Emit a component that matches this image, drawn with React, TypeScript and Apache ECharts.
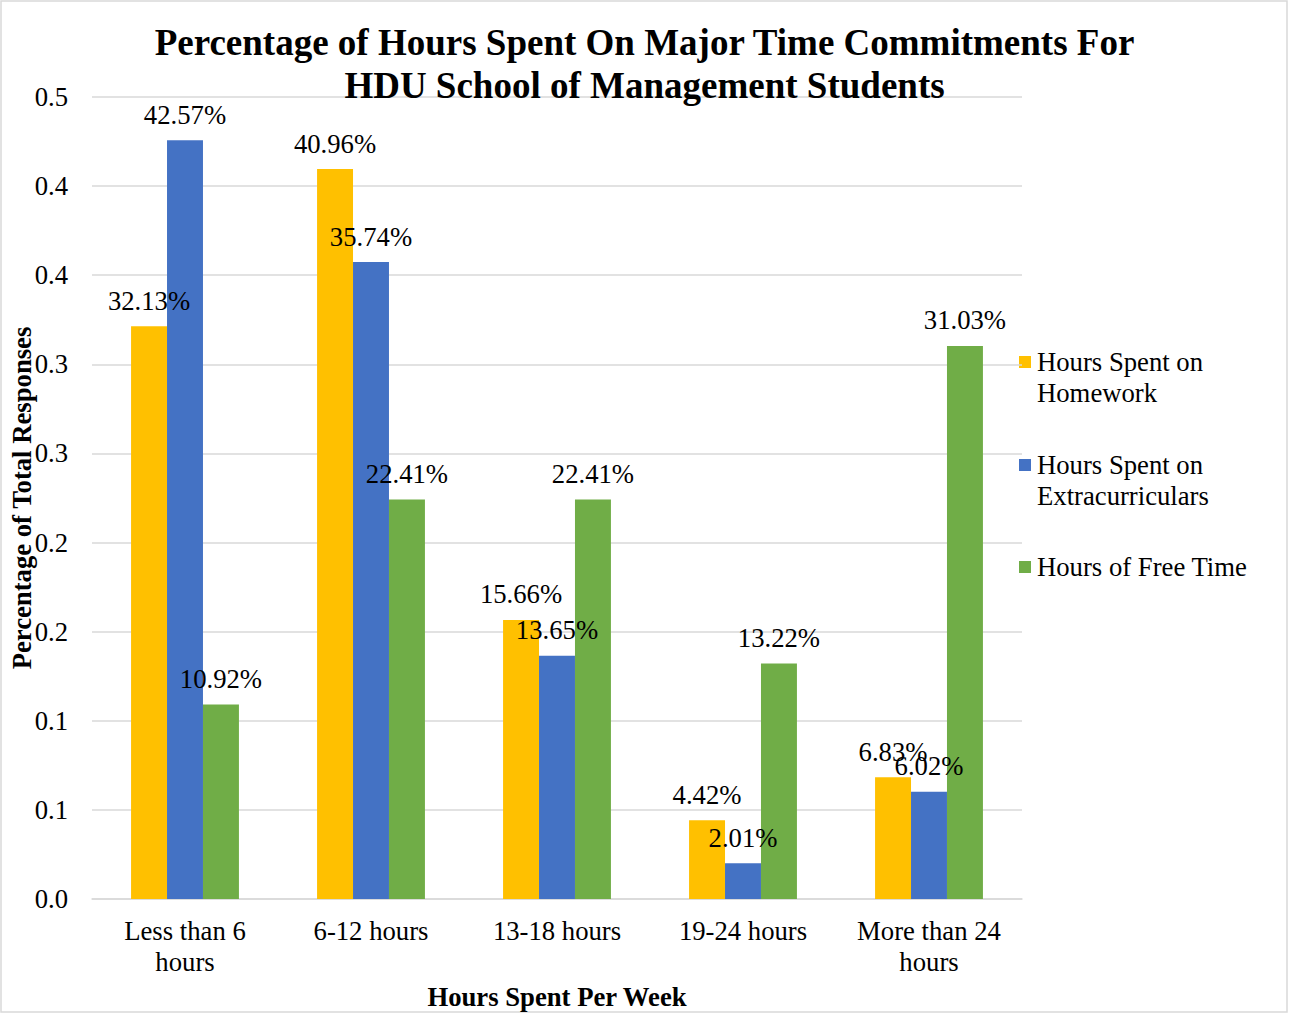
import React, { useEffect, useRef } from "react";
import * as echarts from "echarts";

const categories = ["Less than 6\nhours", "6-12 hours", "13-18 hours", "19-24 hours", "More than 24\nhours"];
const seriesNames = ["Hours Spent on Homework", "Hours Spent on Extracurriculars", "Hours of Free Time"];
const legendLines = [["Hours Spent on", "Homework"], ["Hours Spent on", "Extracurriculars"], ["Hours of Free Time"]];
const homework = [0.3213, 0.4096, 0.1566, 0.0442, 0.0683];
const extracurriculars = [0.4257, 0.3574, 0.1365, 0.0201, 0.0602];
const freeTime = [0.1092, 0.2241, 0.2241, 0.1322, 0.3103];
const colors = ["#FFC000", "#4472C4", "#70AD47"];

const FONT = "'Liberation Serif', 'Times New Roman', serif";
const FS = 26.7;

export default function App() {
  const ref = useRef<HTMLDivElement>(null);
  useEffect(() => {
    if (!ref.current) return;
    const chart = echarts.init(ref.current, undefined, { renderer: "svg" });
    const data = [homework, extracurriculars, freeTime];
    const legendY = [362, 465, 567];
    const legendGraphics: any[] = [];
    legendLines.forEach((lines, i) => {
      legendGraphics.push({
        type: "rect",
        shape: { x: 1019, y: legendY[i] - 6, width: 12, height: 12 },
        style: { fill: colors[i] },
      });
      legendGraphics.push({
        type: "text",
        x: 1037,
        y: legendY[i] - 15.5,
        style: {
          text: lines.join("\n"),
          font: `${FS}px ${FONT}`,
          fill: "#000",
          lineHeight: 31,
          textVerticalAlign: "top",
        },
      });
    });
    chart.setOption({
      animation: false,
      backgroundColor: "#fff",
      textStyle: { fontFamily: FONT },
      title: {
        text: "Percentage of Hours Spent On Major Time Commitments For\nHDU School of Management Students",
        left: "center",
        top: 21,
        padding: 0,
        textStyle: { fontFamily: FONT, fontSize: 37, fontWeight: "bold", color: "#000", lineHeight: 43 },
      },
      grid: { left: 92, right: 267, top: 97, bottom: 115, outerBoundsMode: "none", containLabel: false },
      xAxis: {
        type: "category",
        data: categories,
        axisLine: { lineStyle: { color: "#d9d9d9", width: 1.5 } },
        axisTick: { show: false },
        axisLabel: { interval: 0, fontFamily: FONT, fontSize: FS, color: "#000", lineHeight: 31, margin: 16 },
        name: "Hours Spent Per Week",
        nameLocation: "middle",
        nameGap: 84,
        nameMoveOverlap: false,
        nameTextStyle: { fontFamily: FONT, fontSize: FS, fontWeight: "bold", color: "#000" },
      },
      yAxis: {
        type: "value",
        min: 0,
        max: 0.45,
        interval: 0.05,
        axisLine: { show: false },
        axisTick: { show: false },
        splitLine: { lineStyle: { color: "#d9d9d9", width: 1.5 } },
        axisLabel: {
          fontFamily: FONT,
          fontSize: FS,
          color: "#000",
          margin: 24,
          formatter: (v: number) => (Math.round(v * 10 + 1e-9) / 10).toFixed(1),
        },
        name: "Percentage of Total Responses",
        nameLocation: "middle",
        nameGap: 57,
        nameMoveOverlap: false,
        nameTextStyle: { fontFamily: FONT, fontSize: FS, fontWeight: "bold", color: "#000" },
      },
      series: seriesNames.map((name, i) => ({
        name,
        type: "bar",
        data: data[i],
        barGap: "0%",
        barCategoryGap: "42%",
        itemStyle: { color: colors[i] },
        label: {
          show: true,
          position: "top",
          distance: 12,
          fontFamily: FONT,
          fontSize: FS,
          color: "#000",
          formatter: (p: any) => (p.value * 100).toFixed(2) + "%",
        },
      })),
      graphic: [
        {
          type: "rect",
          shape: { x: 1, y: 1, width: 1286, height: 1011 },
          style: { fill: "none", stroke: "#d9d9d9", lineWidth: 1.5 },
          silent: true,
        },
        ...legendGraphics,
      ],
    });
    return () => chart.dispose();
  }, []);
  return <div ref={ref} style={{ width: 1289, height: 1014, position: "absolute", left: 0, top: 0 }} />;
}
